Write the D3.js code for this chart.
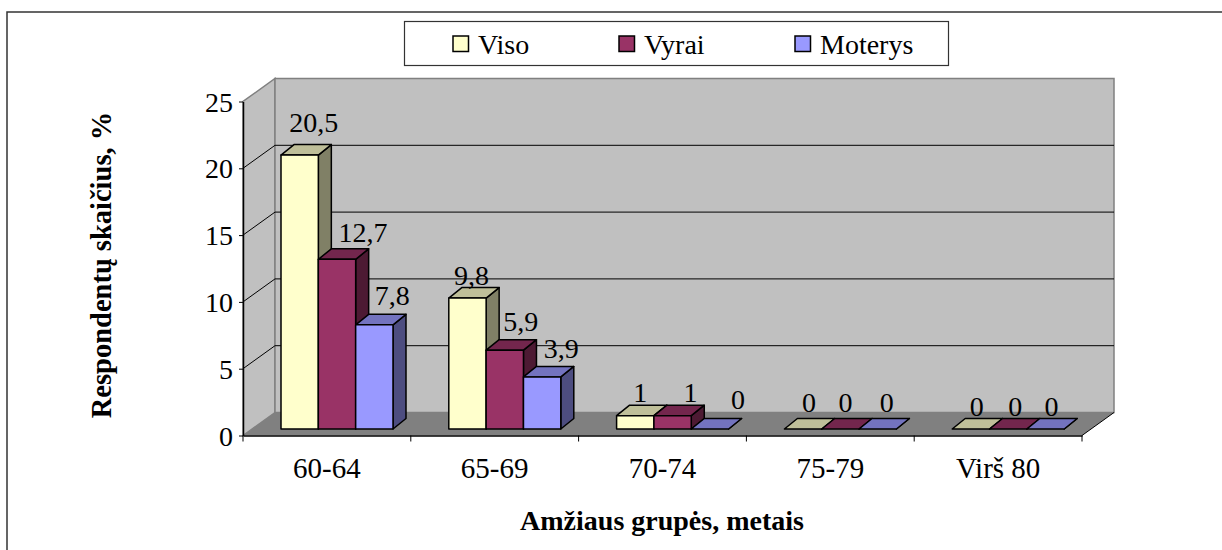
<!DOCTYPE html>
<html><head><meta charset="utf-8">
<script src="https://cdnjs.cloudflare.com/ajax/libs/d3/7.8.5/d3.min.js"></script>
<style>html,body{margin:0;background:#fff}svg{display:block}text{font-family:"Liberation Serif",serif;fill:#000}</style>
</head><body><svg id="c" width="1222" height="550"></svg>
<script>
const categories=["60-64","65-69","70-74","75-79","Virš 80"];
const seriesNames=["Viso","Vyrai","Moterys"];
const viso=[20.5,9.8,1,0,0];
const vyrai=[12.7,5.9,1,0,0];
const moterys=[7.8,3.9,0,0,0];
const labels=[["20,5","9,8","1","0","0"],["12,7","5,9","1","0","0"],["7,8","3,9","0","0","0"]];
const labelNudge=[[[1,-2],[-9,8],[-8,8],[-7,4],[-7,8]],[[13,4],[3,2],[5,8],[-8,4],[-6,8]],[[5,2],[6,3],[15,1],[-4,4],[-7,8]]];
const yTicks=[0,5,10,15,20,25];
const colors=["#ffffcc","#993366","#9999ff"];
const tops=["#bfbf99","#73264d","#7373bf"];
const sides=["#808066","#4d1a33","#4d4d80"];

const svg=d3.select("#c");
const DX=32,DY=-23,bdx=13,bdy=-10.5,oy=-6.5;
const x=d3.scaleBand().domain(categories).range([243,1082]);
const y=d3.scaleLinear().domain([0,25]).range([435.5,101.5]);
const inner=d3.scaleBand().domain(seriesNames).range([38,150]);
const L=243,R=1082,B=y(0),T=y(25);

svg.append("path").attr("d",`M7,550V12H1222`).attr("fill","none").attr("stroke","#333").attr("stroke-width",1.5);

svg.append("path").attr("d",`M${L},${B}L${L+DX},${B+DY}V${T+DY}L${L},${T}Z`).attr("fill","#c0c0c0").attr("stroke","#808080").attr("stroke-width",1.5);
svg.append("rect").attr("x",L+DX).attr("y",T+DY).attr("width",R-L).attr("height",B-T).attr("fill","#c0c0c0").attr("stroke","#808080").attr("stroke-width",1.5);
svg.append("path").attr("d",`M${L},${B}L${L+DX},${B+DY}H${R+DX}L${R},${B}Z`).attr("fill","#808080");
svg.append("path").attr("d",`M${R+DX},${B+DY}L${R},${B}`).attr("stroke","#000").attr("stroke-width",1);
yTicks.slice(1,-1).forEach(t=>{
  svg.append("path").attr("d",`M${L},${y(t)}L${L+DX},${y(t)+DY}H${R+DX}`).attr("fill","none").attr("stroke","#000").attr("stroke-width",1);
});

const ax=svg.append("g").attr("transform",`translate(0,${B})`).call(d3.axisBottom(x).tickSizeOuter(0).tickSize(0));
ax.select(".domain").attr("stroke","#000").attr("stroke-width",1.5);
ax.selectAll("text").attr("font-size",29).attr("font-family","Liberation Serif").attr("dy",0).attr("y",42);
d3.range(categories.length+1).forEach(i=>{
  const tx=L+i*x.step();
  svg.append("line").attr("x1",tx).attr("x2",tx).attr("y1",B).attr("y2",B+6).attr("stroke","#000").attr("stroke-width",1);
});
const ay=svg.append("g").attr("transform",`translate(${L},0)`).call(d3.axisLeft(y).tickValues(yTicks).tickSize(4).tickPadding(6).tickSizeOuter(0));
ay.select(".domain").attr("stroke","#000").attr("stroke-width",1.5);
ay.selectAll("line").attr("stroke","#000");
ay.selectAll("text").attr("font-size",28).attr("font-family","Liberation Serif").attr("dy","0.34em");

const series=[viso,vyrai,moterys];
categories.forEach((c,ci)=>{
  series.forEach((vals,si)=>{
    const v=vals[ci];
    const x0=x(c)+inner(seriesNames[si]), x1=x0+inner.bandwidth();
    const yb=y(0)+oy, yt=y(v)+oy;
    const g=svg.append("g").attr("stroke","#000").attr("stroke-width",1.5).attr("stroke-linejoin","round");
    g.append("path").attr("d",`M${x1},${yb}L${x1+bdx},${yb+bdy}V${yt+bdy}L${x1},${yt}Z`).attr("fill",sides[si]);
    g.append("path").attr("d",`M${x0},${yt}L${x0+bdx},${yt+bdy}H${x1+bdx}L${x1},${yt}Z`).attr("fill",tops[si]);
    g.append("rect").attr("x",x0).attr("y",yt).attr("width",x1-x0).attr("height",yb-yt).attr("fill",colors[si]);
  });
});
series.forEach((vals,si)=>vals.forEach((v,ci)=>{
  const c=categories[ci];
  const cx=x(c)+inner(seriesNames[si])+inner.bandwidth()/2+13;
  svg.append("text").attr("x",cx+labelNudge[si][ci][0]).attr("y",y(v)-28+labelNudge[si][ci][1]).attr("text-anchor","middle").attr("font-size",28).text(labels[si][ci]);
}));

svg.append("text").attr("x",662).attr("y",530).attr("text-anchor","middle").attr("font-size",28).attr("font-weight","bold").text("Amžiaus grupės, metais");
svg.append("text").attr("transform","translate(111,265) rotate(-90)").attr("text-anchor","middle").attr("font-size",28.5).attr("font-weight","bold").text("Respondentų skaičius, %");

svg.append("rect").attr("x",404.5).attr("y",21.5).attr("width",544).attr("height",44).attr("fill","#fff").attr("stroke","#333").attr("stroke-width",1.2);
const legX=d3.scaleOrdinal().domain(seriesNames).range([453,619,795]);
seriesNames.forEach((n,i)=>{
  svg.append("rect").attr("x",legX(n)).attr("y",36).attr("width",15.5).attr("height",15.5).attr("fill",colors[i]).attr("stroke","#000").attr("stroke-width",1.5);
  svg.append("text").attr("x",legX(n)+25).attr("y",54).attr("font-size",28).text(n);
});
</script></body></html>
